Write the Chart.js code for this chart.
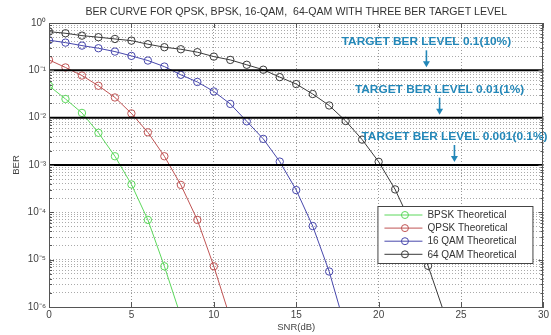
<!DOCTYPE html>
<html>
<head>
<meta charset="utf-8">
<script src="https://cdn.jsdelivr.net/npm/chart.js@4.4.1/dist/chart.umd.min.js"></script>
<style>
  html, body { margin: 0; padding: 0; background: #fff; }
  canvas { display: block; }
</style>
</head>
<body>
<canvas id="ber" width="551" height="335"></canvas>
<script>
// SNR grid in dB (one sample per integer dB)
const snrDb = [0, 1, 2, 3, 4, 5, 6, 7, 8, 9, 10, 11, 12, 13, 14, 15, 16, 17, 18, 19, 20, 21, 22, 23, 24];

// Theoretical BER values per modulation, starting at 0 dB
const bpskBer  = [0.0472, 0.0248, 0.0126, 0.00479, 0.00153, 0.000389, 6.92e-5, 7.24e-6, 6.3e-7];
const qpskBer  = [0.166, 0.115, 0.0776, 0.0472, 0.0267, 0.0123, 0.0049, 0.00153, 0.00038, 6.92e-5, 7.24e-6, 5.75e-7];
const qam16Ber = [0.433, 0.385, 0.333, 0.293, 0.249, 0.202, 0.161, 0.120, 0.0804, 0.0568, 0.0358, 0.0195,
                  0.00836, 0.00356, 0.00118, 0.000295, 5.13e-5, 5.62e-6, 3.47e-7];
const qam64Ber = [0.656, 0.607, 0.541, 0.501, 0.460, 0.424, 0.357, 0.308, 0.279, 0.242, 0.195, 0.166,
                  0.131, 0.103, 0.0719, 0.0513, 0.0316, 0.0181, 0.00851, 0.00344, 0.00117, 0.000305,
                  5.5e-5, 7.41e-6, 7.08e-7];

const seriesNames = ['BPSK Theoretical', 'QPSK Theoretical', '16 QAM Theoretical', '64 QAM Theoretical'];

// BER target levels and their captions
const targetLevels = [0.1, 0.01, 0.001];
const targetCaptions = ['TARGET BER LEVEL 0.1(10%)', 'TARGET BER LEVEL 0.01(1%)', 'TARGET BER LEVEL 0.001(0.1%)'];

const chartTitle = 'BER CURVE FOR QPSK, BPSK, 16-QAM,  64-QAM WITH THREE BER TARGET LEVEL';

// Axis ticks
const xTicks = [0, 5, 10, 15, 20, 25, 30];
const decadeExponents = [-6, -5, -4, -3, -2, -1, 0];
const decadeLabels = ['10⁻⁶', '10⁻⁵', '10⁻⁴', '10⁻³', '10⁻²', '10⁻¹', '10⁰'];

const FONT = "'Liberation Sans', Arial, sans-serif";
const seriesColors = ['#5cd85c', '#c05454', '#4848ac', '#3a3a3a'];

const toPoints = vals => vals.map((v, i) => ({ x: snrDb[i], y: v }));

const curveSets = [bpskBer, qpskBer, qam16Ber, qam64Ber].map((vals, i) => ({
  label: seriesNames[i],
  data: toPoints(vals),
  borderColor: seriesColors[i],
  borderWidth: 1,
  pointStyle: 'circle',
  pointRadius: 3.7,
  pointBorderWidth: 1,
  pointBorderColor: seriesColors[i],
  pointBackgroundColor: 'rgba(0,0,0,0)',
  pointHoverRadius: 3.7,
  tension: 0,
  clip: 0
}));

const targetSets = targetLevels.map(level => ({
  label: 'target ' + level,
  data: [{ x: xTicks[0], y: level }, { x: xTicks[xTicks.length - 1], y: level }],
  borderColor: '#000',
  borderWidth: 2,
  pointRadius: 0,
  clip: 0
}));

// Caption placement along x (dB)
const captionX = [22.9, 23.7, 24.6];

const decorPlugin = {
  id: 'decor',
  afterDatasetsDraw(chart) {
    const { ctx, chartArea: a, scales } = chart;
    ctx.save();

    // title centred over the plot area
    ctx.fillStyle = '#333';
    ctx.font = "10.6px " + FONT;
    ctx.textAlign = 'center';
    ctx.textBaseline = 'middle';
    ctx.fillText(chartTitle, (a.left + a.right) / 2, 12);

    // axes box
    ctx.strokeStyle = '#555';
    ctx.lineWidth = 1;
    ctx.strokeRect(Math.round(a.left) + 0.5, Math.round(a.top) + 0.5,
                   Math.round(a.right - a.left) - 1, Math.round(a.bottom - a.top));

    // small inward tick marks on the y axis
    ctx.beginPath();
    scales.y.ticks.forEach(t => {
      const y = Math.round(scales.y.getPixelForValue(t.value)) + 0.5;
      const len = Number.isInteger(Math.round(Math.log10(t.value) * 1e6) / 1e6) ? 5 : 3;
      ctx.moveTo(a.left, y); ctx.lineTo(a.left + len, y);
      ctx.moveTo(a.right, y); ctx.lineTo(a.right - len, y);
    });
    scales.x.ticks.forEach(t => {
      const x = Math.round(scales.x.getPixelForValue(t.value)) + 0.5;
      ctx.moveTo(x, a.bottom); ctx.lineTo(x, a.bottom - 5);
      ctx.moveTo(x, a.top); ctx.lineTo(x, a.top + 5);
    });
    ctx.stroke();

    // target captions with arrows
    const blue = '#2387b8';
    ctx.fillStyle = blue;
    ctx.strokeStyle = blue;
    ctx.font = "bold 11px " + FONT;
    targetLevels.forEach((lvl, i) => {
      const ly = scales.y.getPixelForValue(lvl);
      const px = scales.x.getPixelForValue(captionX[i]);
      const ty = ly - 28;
      ctx.save();
      ctx.translate(px, ty);
      ctx.scale(1.08, 1);
      ctx.fillText(targetCaptions[i], 0, 0);
      ctx.restore();
      ctx.lineWidth = 1.6;
      ctx.beginPath();
      ctx.moveTo(px, ty + 8);
      ctx.lineTo(px, ly - 6);
      ctx.stroke();
      ctx.beginPath();
      ctx.moveTo(px - 3.5, ly - 9);
      ctx.lineTo(px + 3.5, ly - 9);
      ctx.lineTo(px, ly - 3);
      ctx.closePath();
      ctx.fill();
    });

    // legend box
    const bx = a.right - 166, by = a.bottom - 101, bw = 155, bh = 57;
    ctx.fillStyle = '#fff';
    ctx.fillRect(bx, by, bw, bh);
    ctx.strokeStyle = '#444';
    ctx.lineWidth = 1;
    ctx.strokeRect(bx + 0.5, by + 0.5, bw, bh);
    ctx.font = "10px " + FONT;
    ctx.textAlign = 'left';
    seriesNames.forEach((name, i) => {
      const ry = by + 9 + i * 13.1;
      ctx.strokeStyle = seriesColors[i];
      ctx.lineWidth = 1;
      ctx.beginPath();
      ctx.moveTo(bx + 7, ry);
      ctx.lineTo(bx + 45, ry);
      ctx.stroke();
      ctx.beginPath();
      ctx.arc(bx + 27.5, ry, 3.5, 0, Math.PI * 2);
      ctx.stroke();
      ctx.fillStyle = '#333';
      ctx.fillText(name, bx + 50, ry + 0.5);
    });
    ctx.restore();
  }
};

new Chart(document.getElementById('ber'), {
  type: 'line',
  data: { datasets: [...targetSets, ...curveSets] },
  options: {
    responsive: false,
    animation: false,
    events: [],
    layout: { padding: { left: 0, right: 5, top: 23, bottom: 0 } },
    plugins: {
      legend: { display: false },
      tooltip: { enabled: false },
      title: { display: false }
    },
    scales: {
      x: {
        type: 'linear',
        min: xTicks[0],
        max: xTicks[xTicks.length - 1],
        afterBuildTicks: s => { s.ticks = xTicks.map(v => ({ value: v })); },
        afterFit: s => { s.height = 28; },
        ticks: {
          color: '#444',
          font: { family: FONT, size: 10 },
          padding: 2,
          autoSkip: false,
          maxRotation: 0
        },
        grid: {
          color: '#999',
          lineWidth: 1,
          drawTicks: false
        },
        border: { display: true, color: '#555', dash: [1, 2] },
        title: {
          display: true,
          text: 'SNR(dB)',
          color: '#444',
          font: { family: FONT, size: 9.5 },
          padding: { top: 0, bottom: 2 }
        }
      },
      y: {
        type: 'logarithmic',
        min: Math.pow(10, decadeExponents[0]),
        max: Math.pow(10, decadeExponents[decadeExponents.length - 1]),
        afterBuildTicks: s => {
          const t = [];
          for (let k = 0; k < decadeExponents.length - 1; k++) {
            for (let m = 1; m <= 9; m++) t.push({ value: m * Math.pow(10, decadeExponents[k]) });
          }
          t.push({ value: 1 });
          s.ticks = t;
        },
        afterFit: s => { s.width = 49; },
        ticks: {
          color: '#444',
          font: { family: FONT, size: 10 },
          padding: 3,
          autoSkip: false,
          callback: v => {
            const e = Math.log10(v);
            const idx = decadeExponents.findIndex(d => Math.abs(d - e) < 1e-6);
            return idx >= 0 ? decadeLabels[idx] : '';
          }
        },
        grid: {
          color: '#aaa',
          lineWidth: 1,
          drawTicks: false
        },
        border: { display: true, color: '#555', dash: [1, 2] },
        title: {
          display: true,
          text: 'BER',
          color: '#444',
          font: { family: FONT, size: 9.5 },
          padding: { top: 11, bottom: 0 }
        }
      }
    }
  },
  plugins: [decorPlugin]
});
</script>
</body>
</html>
